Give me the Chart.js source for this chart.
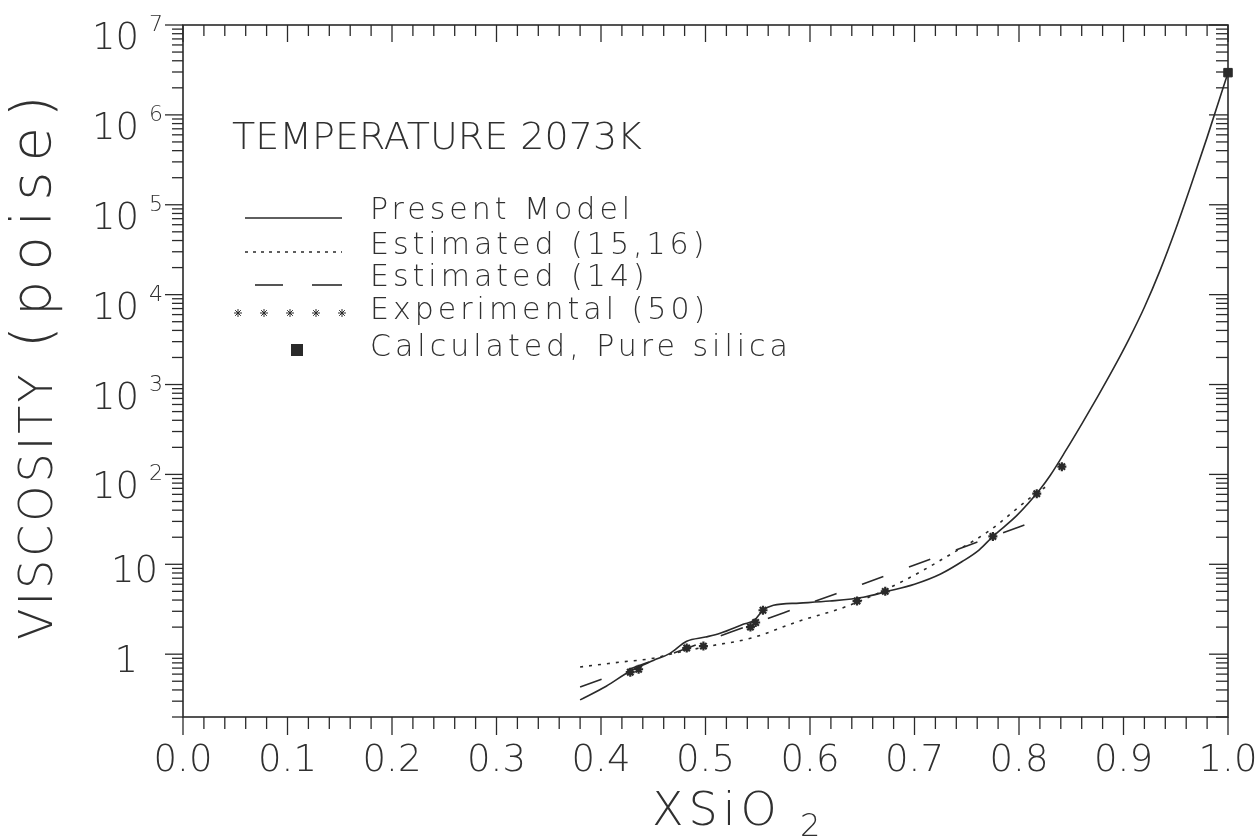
<!DOCTYPE html>
<html><head><meta charset="utf-8">
<script src="https://cdn.jsdelivr.net/npm/chart.js@4/dist/chart.umd.min.js"></script>
<style>html,body{margin:0;padding:0;background:#fff}#wrap{width:1259px;height:839px}</style>
</head><body><div id="wrap"><canvas id="c" width="1259" height="839"></canvas></div>
<script>
// ---- data ----
const modelX = [0.380,0.405,0.428,0.450,0.466,0.482,0.500,0.514,0.536,0.547,0.555,0.565,0.590,0.619,0.651,0.674,0.700,0.725,0.746,0.762,0.775,0.798,0.820,0.830,0.845,0.860,0.875,0.890,0.905,0.920,0.935,0.950,0.965,0.980,1.000];
const modelY = [0.31,0.44,0.65,0.85,1.02,1.39,1.55,1.71,2.15,2.4,3.08,3.5,3.7,3.9,4.3,5.0,6.0,7.8,10.8,14.5,20.4,35,68,98,186,363,724,1480,3160,7240,18600,53700,170000,562000,2950000];
const est1516X = [0.380,0.420,0.450,0.466,0.504,0.543,0.588,0.635,0.689,0.741,0.772,0.810,0.825];
const est1516Y = [0.72,0.82,0.90,1.0,1.23,1.5,2.3,3.4,6.5,14.3,23.8,54,72];
const est14X = [0.380,0.450,0.500,0.550,0.600,0.650,0.700,0.750,0.800,0.827];
const est14Y = [0.43,0.85,1.39,2.27,3.7,6.0,9.8,16,26,34];
const expX = [0.428,0.436,0.482,0.498,0.543,0.548,0.555,0.645,0.672,0.775,0.817,0.841];
const expY = [0.63,0.68,1.17,1.23,2.0,2.25,3.08,3.9,5.0,20.4,61,122];
const silicaX = [1.0];
const silicaY = [2950000];
const xTickLabels = ['0.0','0.1','0.2','0.3','0.4','0.5','0.6','0.7','0.8','0.9','1.0'];
const yTickExps = [0,1,2,3,4,5,6,7];
const legendLabels = ['Present Model','Estimated (15,16)','Estimated (14)','Experimental (50)','Calculated, Pure silica'];
const tempLabel = 'TEMPERATURE 2073K';

const INK = '#2a2a2a';
const TXT = '#303030';
const FONT = "'DejaVu Sans', sans-serif";
const W = '200 ';
const pts = (xs, ys) => xs.map((x, i) => ({x, y: ys[i]}));

function line(ctx, x1, y1, x2, y2){ctx.beginPath();ctx.moveTo(x1,y1);ctx.lineTo(x2,y2);ctx.stroke();}

const decor = {
  id: 'decor',
  afterDraw(chart){
    const {ctx, chartArea: a, scales: {x, y}} = chart;
    ctx.save();
    ctx.strokeStyle = INK; ctx.fillStyle = TXT;
    // frame
    ctx.lineWidth = 1.6;
    ctx.strokeRect(a.left, a.top, a.right - a.left, a.bottom - a.top);
    // x ticks every 0.02
    ctx.lineWidth = 1.3;
    for (let i = 0; i <= 50; i++) {
      const px = x.getPixelForValue(i / 50);
      const major = i % 5 === 0;
      line(ctx, px, a.bottom, px, a.bottom + (major ? 18 : 12));
      line(ctx, px, a.top, px, a.top + (major ? 17 : 11));
    }
    // y ticks (log)
    for (let e = -1; e <= 7; e++) {
      for (let k = 1; k <= 9; k++) {
        const v = k * Math.pow(10, e);
        if (v < y.min - 1e-9 || v > y.max * 1.0001) continue;
        const py = y.getPixelForValue(v);
        const major = k === 1;
        line(ctx, a.left, py, a.left - (major ? 18 : 11), py);
        line(ctx, a.right, py, a.right - (major ? 19 : 12), py);
      }
    }
    // x tick labels
    ctx.font = W + '37px ' + FONT;
    ctx.textAlign = 'center'; ctx.textBaseline = 'alphabetic';
    xTickLabels.forEach((t, i) => {
      ctx.fillText(t, x.getPixelForValue(i / 10), 771);
    });
    // y tick labels
    yTickExps.forEach(e => {
      const py = y.getPixelForValue(Math.pow(10, e));
      ctx.textAlign = 'right';
      ctx.font = W + '37px ' + FONT;
      if (e === 0) { ctx.fillText('1', 138, py + 18); return; }
      if (e === 1) { ctx.fillText('10', 158, py + 18); return; }
      ctx.fillText('10', 139, py + 24);
      ctx.textAlign = 'left';
      ctx.font = W + '22px ' + FONT;
      ctx.fillText(String(e), 149, py + 6);
    });
    // y title
    ctx.save();
    ctx.translate(52, 640);
    ctx.rotate(-Math.PI / 2);
    ctx.textAlign = 'left';
    ctx.font = W + '46px ' + FONT;
    ctx.letterSpacing = '3px';
    ctx.fillText('VISCOSITY', 0, 0);
    ctx.font = W + '56px ' + FONT;
    ctx.letterSpacing = '10px';
    ctx.fillText('(poise)', 292, -2);
    ctx.restore();
    // x title
    ctx.textAlign = 'left';
    ctx.font = W + '46px ' + FONT;
    ctx.letterSpacing = '5px';
    ctx.fillText('XSiO', 652, 825);
    ctx.letterSpacing = '0px';
    ctx.font = W + '32px ' + FONT;
    ctx.fillText('2', 800, 836);
    // temperature
    ctx.font = W + '38px ' + FONT;
    ctx.fillText(tempLabel, 232, 149);
    // legend
    ctx.font = W + '30px ' + FONT;
    ctx.letterSpacing = '4px';
    const ys = [208, 243, 275, 308, 345];
    legendLabels.forEach((t, i) => ctx.fillText(t, 370, ys[i] + 11));
    ctx.letterSpacing = '0px';
    ctx.lineWidth = 1.6;
    line(ctx, 245, 218, 342, 218);
    ctx.setLineDash([3, 5]); line(ctx, 245, 252, 342, 252);
    ctx.setLineDash([]);
    line(ctx, 255, 285, 283, 285); line(ctx, 312, 285, 342, 285);
    ctx.restore();
  }
};

const chart = new Chart(document.getElementById('c'), {
  type: 'scatter',
  data: {
    datasets: [
      {label: 'Present Model', data: pts(modelX, modelY), showLine: true, borderColor: INK, borderWidth: 1.6, pointRadius: 0, cubicInterpolationMode: 'monotone', clip: false},
      {label: 'Estimated (15,16)', data: pts(est1516X, est1516Y), showLine: true, borderColor: INK, borderWidth: 1.6, borderDash: [3, 6], pointRadius: 0, cubicInterpolationMode: 'monotone'},
      {label: 'Estimated (14)', data: pts(est14X, est14Y), showLine: true, borderColor: INK, borderWidth: 1.6, borderDash: [23, 27], pointRadius: 0, tension: 0.2},
      {label: 'Experimental (50)', data: pts(expX, expY), showLine: false, pointStyle: 'star', pointRadius: 4.5, borderWidth: 2.2, borderColor: INK, backgroundColor: INK},
      {label: 'Calculated, Pure silica', data: pts(silicaX, silicaY), showLine: false, pointStyle: 'rect', pointRadius: 6, borderWidth: 1, borderColor: INK, backgroundColor: INK, clip: false}
    ]
  },
  options: {
    responsive: false,
    animation: false,
    layout: {padding: {top: 25, right: 31, left: 0, bottom: 0}},
    plugins: {legend: {display: false}, tooltip: {enabled: false}},
    scales: {
      x: {type: 'linear', min: 0, max: 1, grid: {display: false}, border: {display: false}, ticks: {display: false},
          afterFit(s){ s.height = 122; }},
      y: {type: 'logarithmic', min: 0.2, max: 1e7, grid: {display: false}, border: {display: false}, ticks: {display: false},
          afterFit(s){ s.width = 183; }}
    }
  },
  plugins: [decor, {
    id: 'legendMarks',
    afterDraw(chart){
      const ctx = chart.ctx;
      ctx.save(); ctx.strokeStyle = INK; ctx.fillStyle = INK;
      [238, 264, 290, 316, 342].forEach(px => {
        Chart.helpers.drawPoint(ctx, {pointStyle: 'star', radius: 4, borderWidth: 2}, px, 313);
      });
      ctx.fillRect(291, 344, 12, 12); ctx.restore();
    }
  }]
});
</script>
</body></html>
